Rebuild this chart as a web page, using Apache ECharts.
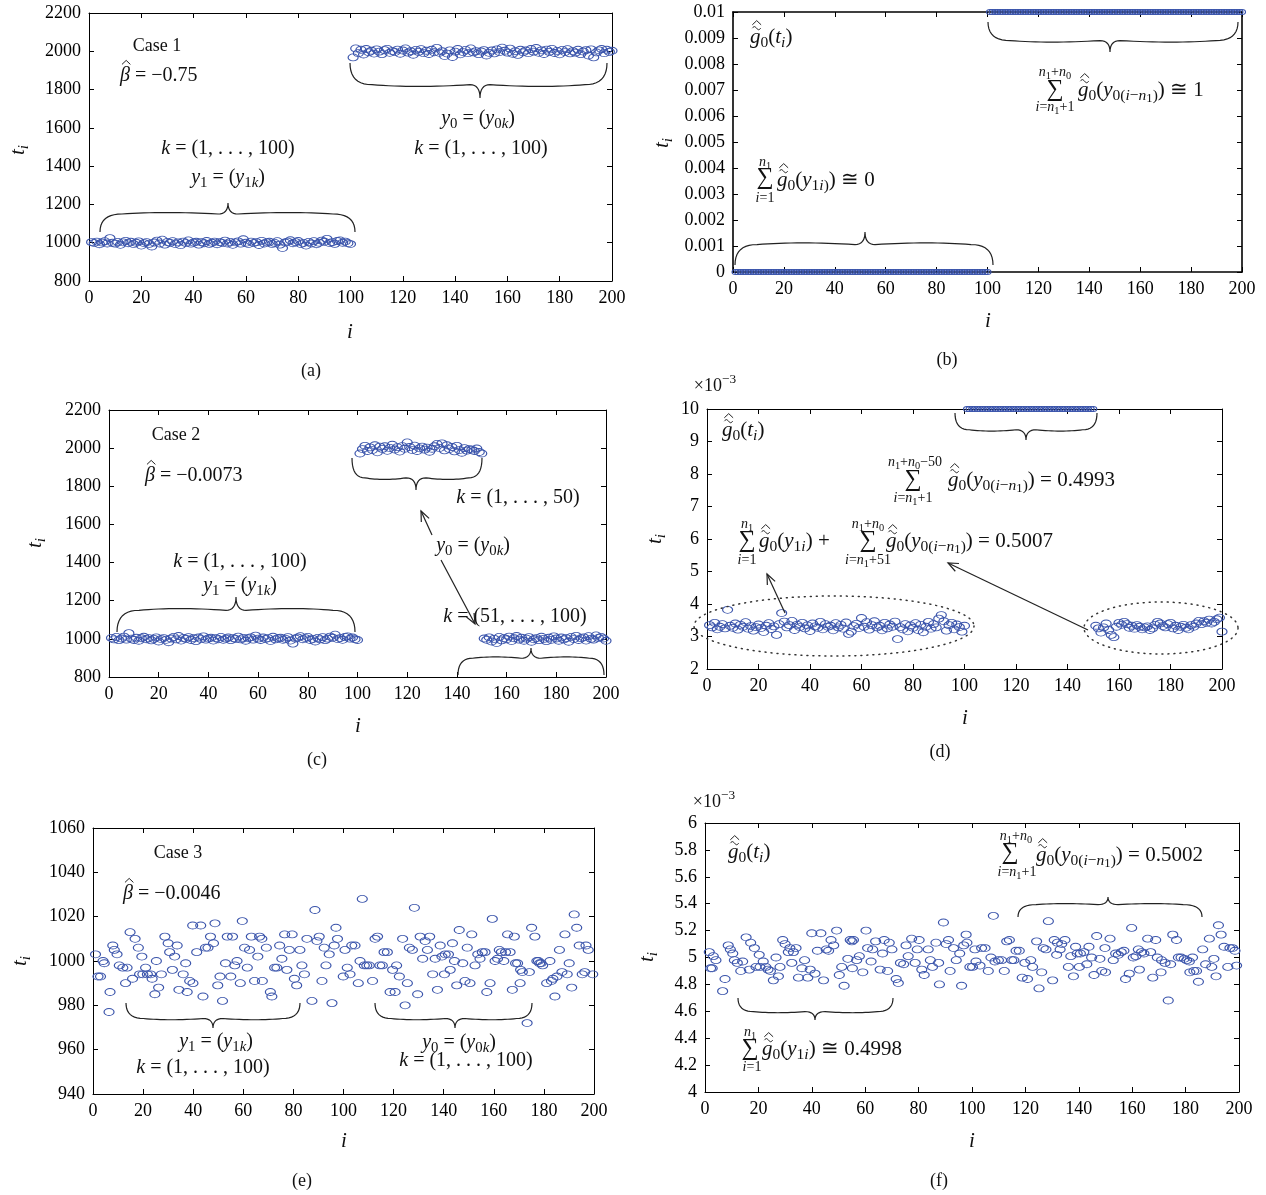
<!DOCTYPE html>
<html><head><meta charset="utf-8">
<script src="https://cdn.jsdelivr.net/npm/echarts@6/dist/echarts.min.js"></script>
<style>html,body{margin:0;padding:0;background:#fff}#c{width:1266px;height:1195px}</style>
</head><body><div id="c"></div>
<script>
// ---------------- DATA ----------------
const xTickLabels = [0,20,40,60,80,100,120,140,160,180,200];
// (a) Case 1
const a_y1 = [1003,998,1006,992,1001,1008,996,1024,1000,995,
 1004,989,1002,1010,997,1005,993,1000,1007,985,
 998,1003,994,980,1001,1011,996,1016,990,1004,
 999,1008,993,1002,987,1006,998,1012,995,1001,
 1005,990,1003,997,1009,994,1000,1006,992,1003,
 998,1011,996,1004,989,1002,1007,995,1018,1000,
 993,1006,998,1003,988,1010,996,1002,1005,994,
 999,1008,990,972,1001,1006,1013,997,1003,1009,
 993,999,985,1004,996,1008,992,1000,1011,1005,
 1020,998,1003,994,1009,1012,1000,1006,997,993];
const a_y0 = [1968,2015,1990,2008,1983,2012,1995,2003,1988,2010,
 1998,1985,2006,2013,1992,2001,1996,2009,1987,2004,
 2015,1993,2000,1982,2007,1997,2011,1990,2003,1986,
 2008,1995,2018,1992,2000,1975,1988,2005,1970,1998,
 2012,1984,1996,2007,1990,2015,1994,2001,1985,1999,
 2006,1978,1992,2004,1989,2010,1996,2019,2003,1993,
 2014,1987,2000,1981,2008,1995,2004,1990,2012,1998,
 2017,1992,2005,1986,2009,1997,2013,1991,2002,1984,
 2007,1996,2011,1989,2001,1993,2008,1985,1999,2006,
 1978,2010,1968,1994,2005,2012,1990,2008,1997,2003];
// (b) estimated density, Case 1
const b_y1 = [0,0,0,0,0,0,0,0,0,0, 0,0,0,0,0,0,0,0,0,0, 0,0,0,0,0,0,0,0,0,0, 0,0,0,0,0,0,0,0,0,0, 0,0,0,0,0,0,0,0,0,0,
 0,0,0,0,0,0,0,0,0,0, 0,0,0,0,0,0,0,0,0,0, 0,0,0,0,0,0,0,0,0,0, 0,0,0,0,0,0,0,0,0,0, 0,0,0,0,0,0,0,0,0,0];
const b_y0 = [0.01,0.01,0.01,0.01,0.01,0.01,0.01,0.01,0.01,0.01, 0.01,0.01,0.01,0.01,0.01,0.01,0.01,0.01,0.01,0.01,
 0.01,0.01,0.01,0.01,0.01,0.01,0.01,0.01,0.01,0.01, 0.01,0.01,0.01,0.01,0.01,0.01,0.01,0.01,0.01,0.01,
 0.01,0.01,0.01,0.01,0.01,0.01,0.01,0.01,0.01,0.01, 0.01,0.01,0.01,0.01,0.01,0.01,0.01,0.01,0.01,0.01,
 0.01,0.01,0.01,0.01,0.01,0.01,0.01,0.01,0.01,0.01, 0.01,0.01,0.01,0.01,0.01,0.01,0.01,0.01,0.01,0.01,
 0.01,0.01,0.01,0.01,0.01,0.01,0.01,0.01,0.01,0.01, 0.01,0.01,0.01,0.01,0.01,0.01,0.01,0.01,0.01,0.01];
// (c) Case 2
const c_y1 = [1005,997,1010,993,1002,1012,996,1030,1001,994,
 1006,990,1003,1011,998,1004,992,1000,1008,986,
 999,1004,995,982,1002,1010,997,1015,991,1005,
 1000,1009,994,1003,988,1007,999,1013,996,1002,
 1006,991,1004,998,1010,995,1001,1007,993,1004,
 999,1012,997,1005,990,1003,1008,996,1017,1001,
 994,1007,999,1004,989,1011,997,1003,1006,995,
 1000,1009,991,975,1002,1007,1014,998,1004,1010,
 994,1000,986,1005,997,1009,993,1001,1012,1006,
 1022,999,1004,995,1010,1013,1001,1007,998,994];
const c_y0a = [1972,1995,2012,1985,2004,1990,2015,1978,2008,1996,
 2010,1986,2001,2018,1993,2005,1982,2011,1997,2030,
 2006,1990,2013,1985,1999,2008,1992,2003,1981,1997,
 2010,2022,2001,2025,1988,2015,1995,2006,1983,2012,
 1990,1976,2000,1987,1995,1992,1985,1998,1980,1972];
const c_y0b = [1002,995,1008,986,1000,978,1010,992,1004,998,
 1012,989,1003,1015,996,1006,990,1001,1009,985,
 998,1004,993,1011,1000,988,1006,995,1013,1002,
 990,1007,997,1004,985,1010,999,1016,994,1003,
 1008,991,1014,1000,996,1018,1005,1010,1002,990];
// (d) estimated density, Case 2 (x10^-3)
const d_y1 = [3.35,3.28,3.42,3.22,3.30,3.38,3.25,3.82,3.33,3.27,
 3.40,3.21,3.36,3.30,3.44,3.24,3.32,3.18,3.29,3.37,
 3.26,3.14,3.33,3.41,3.23,3.31,3.05,3.38,3.72,3.46,
 3.28,3.35,3.48,3.20,3.36,3.29,3.42,3.25,3.34,3.17,
 3.40,3.31,3.27,3.45,3.22,3.38,3.30,3.33,3.19,3.41,
 3.28,3.36,3.24,3.43,3.08,3.15,3.32,3.39,3.26,3.57,
 3.30,3.44,3.21,3.35,3.47,3.28,3.33,3.19,3.42,3.25,
 3.37,3.30,3.46,2.92,3.29,3.22,3.38,3.16,3.34,3.27,
 3.41,3.20,3.36,3.13,3.30,3.45,3.24,3.38,3.28,3.55,
 3.66,3.47,3.18,3.35,3.42,3.22,3.37,3.29,3.15,3.33];
const d_y0a = [10,10,10,10,10,10,10,10,10,10, 10,10,10,10,10,10,10,10,10,10, 10,10,10,10,10,10,10,10,10,10,
 10,10,10,10,10,10,10,10,10,10, 10,10,10,10,10,10,10,10,10,10];
const d_y0b = [3.33,3.25,3.12,3.28,3.40,3.20,3.05,2.98,3.30,3.42,
 3.36,3.45,3.38,3.27,3.33,3.24,3.35,3.30,3.22,3.28,
 3.31,3.20,3.25,3.36,3.45,3.40,3.32,3.28,3.38,3.42,
 3.25,3.33,3.20,3.30,3.36,3.27,3.22,3.35,3.30,3.40,
 3.48,3.38,3.47,3.42,3.52,3.40,3.45,3.53,3.58,3.15];
// (e) Case 3  [i, t_i]
const e_pts = [[1,1003],[2,993],[3,993],[4,1000],[4.5,999],[6.4,977],[6.8,986],[7.9,1007],[8.5,1005],[9.6,1003],
 [10.5,998],[11.9,997],[13,990],[13.6,997],[14.8,1013],[15.8,992],[16.8,1010],[18.1,1006],[18.6,994],[19.5,1002],
 [19.9,994],[21,997],[21.7,994],[23,994],[23.6,992],[24.7,985],[25.3,1000],[26.2,988],[27.3,994],[28.7,1011],
 [30,1008],[30.6,1004],[31.7,996],[32.6,1002],[33.6,1007],[34.3,987],[36,994],[37,999],[37.6,986],[38.6,991],
 [39.8,1016],[39.9,990],[41.4,1004],[43,1016],[43.9,984],[44.9,1006],[45.9,1006],[46.9,1011],[48.1,1008],[48.7,1017],
 [49.8,989],[50.7,993],[51.7,982],[52.9,999],[53.6,1011],[55,993],[55.7,1011],[56.6,998],[57.5,1000],[58.8,990],
 [59.6,1018],[60.5,1006],[61.6,997],[62.5,1005],[63.2,1011],[64.5,991],[65.8,1002],[66.5,1011],[67.4,1010],[67.6,991],
 [69.2,1006],[70.8,986],[71.4,984],[72.5,997],[73.4,997],[74.5,1007],[75.4,1001],[76.5,1012],[77.4,996],[78.4,1005],
 [79.5,1012],[80.4,992],[81.3,989],[82.6,1005],[83.4,998],[84.4,994],[85.4,1010],[87.4,982],[88.6,1023],[89.4,1009],
 [90.3,1011],[91.4,991],[92.3,1006],[93,998],[94.3,1003],[95.4,981],[96.3,1007],[97,1015],[97.6,1010],[99.9,993],
 [100.6,1005],[101.5,997],[102.6,994],[103.3,1007],[104.6,1007],[105.9,990],[106.6,1000],[107.5,1028],[108.3,998],[109.3,998],
 [110.3,998],[111.6,991],[112.6,1010],[113.6,1011],[114.5,998],[115.5,998],[116.2,1004],[117.5,1004],[118.6,986],[119.6,996],
 [120.6,986],[121.2,998],[122.3,993],[123.6,1010],[124.6,980],[125.5,990],[126.3,1006],[127.5,1005],[128.3,1024],[129.6,985],
 [130.6,1011],[131.6,1001],[132.6,1009],[133.5,1005],[134.4,1011],[135.6,994],[136.6,1001],[137.5,987],[138.6,1007],[139.3,1002],
 [140.3,994],[140.6,1003],[141.9,1003],[142.6,996],[143.5,1008],[144.3,1000],[145.2,989],[146.2,1014],[147.6,999],[148.5,991],
 [149.4,1006],[150.5,990],[151.2,1012],[152.5,998],[153.6,1003],[154.5,1001],[155.4,1004],[156.5,1004],[157.2,986],[158.5,990],
 [159.4,1019],[160.5,1000],[161.5,1001],[162.2,1005],[163,1004],[164,1000],[164.7,1004],[165.5,1012],[166.5,1004],[167.4,987],
 [168.2,1011],[168.7,999],[169.5,999],[170.5,990],[170.7,996],[171.4,995],[173.3,972],[174.2,995],[175.1,1015],[176.4,1011],
 [177.2,1000],[177.8,1000],[178.3,999],[178.9,999],[179.5,998],[181.1,990],[182.4,1000],[183,991],[183.6,992],[184.4,984],
 [185.2,993],[186.2,1005],[187.2,995],[188.4,1012],[189.3,994],[190.1,999],[191.1,988],[192.1,1021],[193.1,1015],[194.1,1007],
 [195.3,994],[196.3,995],[196.8,1007],[197.7,1005],[199.5,994]];
// (f) estimated density, Case 3 (x10^-3)  [i, g]
const f_pts = [[1.6,5.04],[2.1,4.92],[2.7,4.92],[3.1,5.01],[4.1,4.98],[6.6,4.75],[7.5,4.84],[8.7,5.09],[9.5,5.06],[10.4,5.03],
 [11,4.98],[12.1,4.96],[13.4,4.90],[14.1,4.97],[15.4,5.15],[16.6,4.91],[17.1,5.11],[18.5,5.07],[19.1,4.93],[20.3,5.02],
 [20.6,4.93],[21.8,4.97],[22.8,4.93],[23.6,4.91],[24.5,4.90],[25.6,4.83],[26.6,5.00],[27.5,4.86],[28.1,4.93],[29.1,5.13],
 [30,5.10],[31.2,5.04],[31.8,5.07],[32.5,4.96],[33.1,5.04],[34.1,5.07],[35,4.85],[36.3,4.92],[37.3,4.98],[38.5,4.85],
 [39.4,4.91],[40,5.18],[41.2,4.88],[42.1,5.05],[43.4,5.18],[44.4,4.83],[45.4,5.06],[46.3,5.05],[47.2,5.13],[48.2,5.09],
 [49.3,5.20],[50.3,4.87],[51.2,4.93],[52.1,4.79],[53.5,4.99],[54.4,5.13],[55,5.12],[55.2,4.92],[55.6,5.13],[56.8,4.98],
 [57.8,5.01],[59.1,4.89],[60.3,5.20],[60.9,5.07],[62.2,4.97],[62.8,5.06],[63.9,5.12],[65.6,4.91],[66.5,5.03],[67.1,5.13],
 [68.4,4.90],[69,5.11],[70,5.06],[71.6,4.84],[72.4,4.81],[73.2,4.96],[74.4,4.95],[75.3,5.09],[76.1,5.01],[77.4,5.14],
 [78.7,4.96],[79.5,5.06],[80.2,5.13],[81.2,4.91],[82.1,4.87],[83.6,5.06],[84.4,4.98],[85.2,4.93],[86.5,5.11],[87.5,4.96],
 [87.8,4.80],[89.3,5.26],[90.3,5.10],[91.2,5.13],[91.8,4.90],[93.1,5.07],[94.1,4.98],[95.4,5.03],[96.1,4.79],[96.9,5.09],
 [97.8,5.17],[98.1,5.11],[99.2,4.93],[100.2,4.93],[101.1,5.06],[101.5,4.97],[103,4.94],[103.6,5.07],[104.9,5.07],[106.1,4.90],
 [107.1,5.00],[108,5.31],[108.6,4.97],[109.9,4.98],[111.1,4.98],[112.1,4.90],[113,5.12],[114,5.13],[114.9,4.98],[115.7,4.98],
 [116.5,5.05],[117.7,5.05],[118.8,4.85],[119.8,4.96],[120.8,4.84],[122,4.98],[122.7,4.93],[124.2,5.12],[125.1,4.77],[126.1,4.89],
 [126.7,5.07],[127.7,5.06],[128.6,5.27],[130.2,4.83],[130.8,5.13],[131.7,5.02],[132,5.11],[133,5.06],[133.6,5.10],[134.8,5.13],
 [136.1,4.93],[137,5.01],[138,4.86],[138.8,5.08],[139.4,5.03],[140.2,4.93],[140.6,5.03],[141.9,5.04],[143,4.95],[143.8,5.08],
 [144.8,5.00],[145.7,4.87],[146.7,5.16],[147.9,4.99],[148.6,4.90],[149.8,5.07],[150,4.89],[151.7,5.14],[152.9,4.98],[153.8,5.03],
 [154.8,5.02],[155.9,5.04],[156.9,5.05],[157.5,4.84],[158.9,4.88],[159.8,5.22],[160.4,5.00],[161.4,5.01],[162.3,5.06],[162.7,4.91],
 [163.5,5.04],[164.4,5.03],[165.8,5.14],[166.9,5.04],[167.7,4.85],[168.8,5.13],[169.4,5.00],[170.8,4.89],[171,4.98],[172.3,4.96],
 [173.5,4.68],[174.4,4.95],[175.2,5.17],[176.6,5.13],[177.3,5.00],[178.3,5.00],[179.5,4.99],[180.4,4.98],[181.4,4.97],[181.6,4.89],
 [182.6,5.00],[183.1,4.90],[184.1,4.90],[184.8,4.82],[186.4,5.06],[187.5,4.95],[188.9,5.14],[189.8,4.93],[190.6,4.99],[191.4,4.86],
 [192.3,5.24],[193.3,5.17],[194.4,5.08],[195.8,4.93],[196.6,5.07],[197.6,5.07],[198.5,5.05],[199.1,4.94]];

// ---------------- LAYOUT / STYLE ----------------
const FONT = '"Liberation Serif","Times New Roman","DejaVu Serif",serif';
const BLUE = '#3a54ab';
const panels = [
  {left:89, top:13, width:523, height:268, ymin:800, ymax:2200, yint:200, bw:1},
  {left:733, top:12, width:509, height:260, ymin:0, ymax:0.01, yint:0.001, bw:1.6},
  {left:109, top:410, width:497, height:267, ymin:800, ymax:2200, yint:200, bw:1},
  {left:707, top:409, width:515, height:260, ymin:2, ymax:10, yint:1, bw:1},
  {left:93, top:828, width:501, height:266, ymin:940, ymax:1060, yint:20, bw:1},
  {left:705, top:823, width:534, height:269, ymin:4, ymax:6, yint:0.2, bw:1}
];
const fmtY = v => String(+v.toFixed(4));

const grid = [], xAxis = [], yAxis = [], series = [];
panels.forEach((p, k) => {
  grid.push({left:p.left, top:p.top, width:p.width, height:p.height});
  const line = {show:true, onZero:false, lineStyle:{color:'#000', width:p.bw}};
  const tick = {show:true, inside:true, length:5, lineStyle:{color:'#000', width:1}};
  const lab = {color:'#000', fontFamily:FONT, fontSize:18, margin:8};
  xAxis.push({gridIndex:k, type:'value', position:'bottom', min:0, max:200, interval:20,
    axisLine:line, axisTick:tick, splitLine:{show:false},
    axisLabel:Object.assign({}, lab, {formatter: v => String(xTickLabels[Math.round(v/20)])})});
  xAxis.push({gridIndex:k, type:'value', position:'top', min:0, max:200, interval:20,
    axisLine:line, axisTick:tick, splitLine:{show:false}, axisLabel:{show:false}});
  yAxis.push({gridIndex:k, type:'value', position:'left', min:p.ymin, max:p.ymax, interval:p.yint,
    axisLine:line, axisTick:tick, splitLine:{show:false},
    axisLabel:Object.assign({}, lab, {formatter: fmtY})});
  yAxis.push({gridIndex:k, type:'value', position:'right', min:p.ymin, max:p.ymax, interval:p.yint,
    axisLine:line, axisTick:tick, splitLine:{show:false}, axisLabel:{show:false}});
});
function sc(k, data, size) {
  series.push({type:'scatter', xAxisIndex:2*k, yAxisIndex:2*k, data, symbol:'circle',
    symbolSize: size || [10,7], clip:false, silent:true, animation:false,
    itemStyle:{color:'rgba(0,0,0,0)', borderColor:BLUE, borderWidth:1, opacity:1}});
}
const seq = (arr, start) => arr.map((v, j) => [start + j, v]);
sc(0, seq(a_y1, 1)); sc(0, seq(a_y0, 101));
sc(1, seq(b_y1, 1), [7,5]); sc(1, seq(b_y0, 101), [7,5]);
sc(2, seq(c_y1, 1)); sc(2, seq(c_y0a, 101)); sc(2, seq(c_y0b, 151));
sc(3, seq(d_y1, 1)); sc(3, seq(d_y0a, 101), [7,5]); sc(3, seq(d_y0b, 151));
sc(4, e_pts); sc(5, f_pts);

// ---------------- ANNOTATIONS ----------------
const INK = '#111';
const mctx = document.createElement('canvas').getContext('2d');
function mw(t, sz, it) { mctx.font = (it ? 'italic ' : '') + sz + 'px ' + FONT; return mctx.measureText(t).width; }
// mini markup: *italic*, _x or _{..} subscript, ^{..} superscript, @ = g with tilde+hat, # = beta with hat
function parse(src, lv, it0, out) {
  let it = it0, i = 0;
  while (i < src.length) {
    const c = src[i];
    if (c === '*') { it = !it; i++; continue; }
    if (c === '@' || c === '#') { out.push({t: c === '@' ? 'g' : 'β', it:true, lv, acc:c}); i++; continue; }
    if (c === '_' || c === '^') {
      i++; let g;
      if (src[i] === '{') { let d = 1, j = i + 1; while (j < src.length && d > 0) { if (src[j] === '{') d++; else if (src[j] === '}') d--; j++; } g = src.slice(i + 1, j - 1); i = j; }
      else { g = src[i]; i++; }
      parse(g, c === '_' ? lv - 1 : lv + 1, it, out); continue;
    }
    let j = i; while (j < src.length && !'*_^@#'.includes(src[j])) j++;
    out.push({t: src.slice(i, j), it, lv}); i = j;
  }
  return out;
}
function PL(points, w) {
  return {type:'polyline', silent:true, z:10, shape:{points}, style:{stroke:'#222', fill:'none', lineWidth:w||1.2}};
}
function hat(cx, cy, w, h) { return PL([[cx - w/2, cy + h/2], [cx, cy - h/2], [cx + w/2, cy + h/2]], 1); }
function tilde(cx, cy, w, h) {
  const pts = [];
  for (let k = 0; k <= 12; k++) { const s = k / 12; pts.push([cx - w/2 + s*w, cy - Math.sin(s * Math.PI * 2) * h/2]); }
  return PL(pts, 1);
}
function M(src, x, y, S, align, rot) {
  const toks = parse(src, 0, false, []);
  const szOf = lv => lv === 0 ? S : (Math.abs(lv) === 1 ? S * 0.74 : S * 0.6);
  const dyOf = lv => lv === 0 ? 0 : lv === -1 ? 0.28 * S : lv <= -2 ? 0.42 * S : -0.36 * S;
  let total = 0; toks.forEach(t => { t.sz = szOf(t.lv); t.w = mw(t.t, t.sz, t.it); total += t.w; });
  let cx = align === 'left' ? 0 : align === 'right' ? -total : -total / 2;
  const ch = [];
  toks.forEach(t => {
    const dy = dyOf(t.lv);
    ch.push({type:'text', x:cx, y:dy, silent:true, style:{text:t.t, fontFamily:FONT, fontSize:t.sz, fontStyle:t.it ? 'italic' : 'normal',
      fill:INK, align:'left', verticalAlign:'middle', textAlign:'left', textVerticalAlign:'middle'}});
    if (t.acc === '@') { const s = t.sz; ch.push(tilde(cx + t.w*0.62, dy - 0.42*s, 0.4*s, 0.15*s), hat(cx + t.w*0.64, dy - 0.68*s, 0.42*s, 0.2*s)); }
    if (t.acc === '#') { const s = t.sz; ch.push(hat(cx + t.w*0.62, dy - 0.68*s, 0.42*s, 0.2*s)); }
    cx += t.w;
  });
  return {type:'group', x, y, rotation: rot || 0, silent:true, z:10, children:ch};
}
function quad(p0, p1, p2, n, out) {
  for (let t = 0; t <= n; t++) {
    const s = t / n, a = (1-s)*(1-s), b = 2*s*(1-s), c = s*s;
    out.push([a*p0[0] + b*p1[0] + c*p2[0], a*p0[1] + b*p1[1] + c*p2[1]]);
  }
}
function brace(x1, x2, xt, ye, yt) {
  const d = yt - ye, ym = ye + d * 0.62, sag = d * 0.1;
  const r1 = Math.min(22, (xt - x1) * 0.2), r2 = Math.min(22, (x2 - xt) * 0.2);
  const pts = [];
  quad([x1, ye], [x1, ym], [x1 + r1, ym], 10, pts);
  quad([x1 + r1, ym], [(x1 + xt) / 2, ym + sag], [xt - 10, ym], 16, pts);
  quad([xt - 10, ym], [xt, ym], [xt, yt], 8, pts);
  quad([xt, yt], [xt, ym], [xt + 10, ym], 8, pts);
  quad([xt + 10, ym], [(x2 + xt) / 2, ym + sag], [x2 - r2, ym], 16, pts);
  quad([x2 - r2, ym], [x2, ym], [x2, ye], 10, pts);
  return PL(pts, 1.2);
}
function arrow(x1, y1, x2, y2) {
  const a = Math.atan2(y2 - y1, x2 - x1), L = 11, w = 0.4;
  const h1 = [x2 - L*Math.cos(a - w), y2 - L*Math.sin(a - w)];
  const h2 = [x2 - L*Math.cos(a + w), y2 - L*Math.sin(a + w)];
  return [PL([[x1, y1], [x2, y2]], 1.2), PL([h1, [x2, y2], h2], 1.2)];
}
function ell(cx, cy, rx, ry) {
  const pts = [];
  for (let k = 0; k < 180; k++) { const t = k / 180 * Math.PI * 2; pts.push([cx + rx*Math.cos(t), cy + ry*Math.sin(t)]); }
  return {type:'polygon', silent:true, z:10, shape:{points:pts},
    style:{fill:'none', stroke:'#333', lineWidth:1.5, lineDash:[1, 5], lineCap:'round'}};
}
const SIG = (x, y) => M('∑', x, y, 24);
const G = [];
// axis names
[[350,332,18,150],[988,321,662,143],[358,726,35,543],[965,718,655,539],[344,1141,20,961],[972,1141,647,957]]
 .forEach(q => { G.push(M('*i*', q[0], q[1], 21)); G.push(M('*t*_{*i*}', q[2], q[3], 21, 'center', Math.PI/2)); });
// captions
[['(a)',311,371],['(b)',947,360],['(c)',317,760],['(d)',940,752],['(e)',302,1181],['(f)',939,1181]]
 .forEach(q => G.push(M(q[0], q[1], q[2], 18)));
// (a)
G.push(M('Case 1', 157, 46, 18), M('# = −0.75', 120, 76, 20, 'left'),
  M('*k* = (1, . . . , 100)', 228, 149, 20), M('*y*_1 = (*y*_{1*k*})', 228, 178, 20),
  M('*y*_0 = (*y*_{0*k*})', 478, 119, 20), M('*k* = (1, . . . , 100)', 481, 149, 20),
  brace(100, 355, 228, 232, 203), brace(350, 607, 480, 63, 98));
// (b)
G.push(M('@_0(*t*_{*i*})', 750, 37, 21, 'left'),
  M('*n*_1+*n*_0', 1055, 72, 14), SIG(1055, 90), M('*i*=*n*_1+1', 1055, 107, 14),
  M('@_0(*y*_{0(*i*−*n*_1)}) ≅ 1', 1078, 90, 21, 'left'),
  M('*n*_1', 765, 162, 14), SIG(765, 178), M('*i*=1', 765, 198, 14),
  M('@_0(*y*_{1*i*)}) ≅ 0', 777, 180, 21, 'left'),
  brace(988, 1238, 1110, 22, 52), brace(735, 993, 865, 265, 232));
// (c)
G.push(M('Case 2', 176, 435, 18), M('# = −0.0073', 145, 476, 20, 'left'),
  M('*k* = (1, . . . , 50)', 518, 498, 20), M('*y*_0 = (*y*_{0*k*})', 473, 546, 20),
  M('*k* = (51, . . . , 100)', 515, 617, 20), M('*k* = (1, . . . , 100)', 240, 562, 20),
  M('*y*_1 = (*y*_{1*k*})', 240, 586, 20),
  brace(352, 482, 416, 458, 490), brace(117, 355, 236, 632, 597), brace(458, 604, 531, 675, 648),
  ...arrow(432, 535, 421, 511), ...arrow(441, 560, 475, 624));
// (d)
G.push(M('×10^{−3}', 715, 386, 18), M('@_0(*t*_{*i*})', 722, 430, 21, 'left'),
  M('*n*_1+*n*_0−50', 915, 462, 14), SIG(913, 480), M('*i*=*n*_1+1', 913, 498, 14),
  M('@_0(*y*_{0(*i*−*n*_1)}) = 0.4993', 948, 480, 21, 'left'),
  M('*n*_1', 747, 524, 14), SIG(747, 541), M('*i*=1', 747, 560, 14),
  M('@_0(*y*_{1*i*}) +', 759, 541, 21, 'left'),
  M('*n*_1+*n*_0', 868, 524, 14), SIG(868, 541), M('*i*=*n*_1+51', 868, 560, 14),
  M('@_0(*y*_{0(*i*−*n*_1)}) = 0.5007', 886, 541, 21, 'left'),
  ...arrow(785, 613, 767, 574), ...arrow(1088, 630, 948, 563),
  ell(834, 626, 140, 30), ell(1161, 628, 77, 26),
  brace(955, 1097, 1026, 413, 440));
// (e)
G.push(M('Case 3', 178, 853, 18), M('# = −0.0046', 123, 894, 20, 'left'),
  brace(126, 300, 213, 1003, 1028), brace(375, 532, 455, 1003, 1028),
  M('*y*_1 = (*y*_{1*k*})', 216, 1042, 20), M('*k* = (1, . . . , 100)', 203, 1068, 20),
  M('*y*_0 = (*y*_{0*k*})', 459, 1043, 20), M('*k* = (1, . . . , 100)', 466, 1061, 20));
// (f)
G.push(M('×10^{−3}', 714, 802, 18), M('@_0(*t*_{*i*})', 728, 852, 21, 'left'),
  M('*n*_1+*n*_0', 1016, 836, 14), SIG(1010, 853), M('*i*=*n*_1+1', 1017, 872, 14),
  M('@_0(*y*_{0(*i*−*n*_1)}) = 0.5002', 1036, 855, 21, 'left'),
  brace(1018, 1202, 1108, 917, 897), brace(738, 893, 815, 998, 1020),
  M('*n*_1', 750, 1032, 14), SIG(750, 1049), M('*i*=1', 752, 1067, 14),
  M('@_0(*y*_{1*i*}) ≅ 0.4998', 762, 1049, 21, 'left'));

const chart = echarts.init(document.getElementById('c'), null, {renderer:'canvas'});
chart.setOption({animation:false, backgroundColor:'#fff', grid, xAxis, yAxis, series, graphic:{elements:G}});
</script>
</body></html>
